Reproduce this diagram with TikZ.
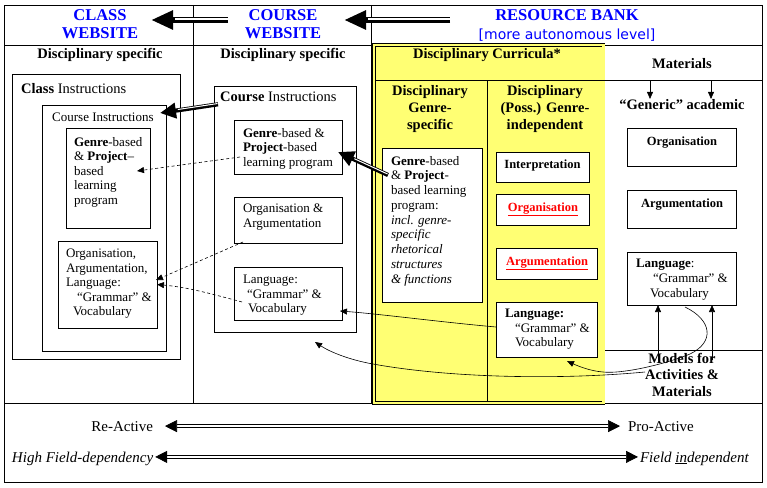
\documentclass[tikz,border=0pt]{standalone}
\usepackage{fontspec}
\setmainfont{Liberation Serif}
\newfontfamily\dvsans{DejaVu Sans}
\usetikzlibrary{arrows.meta,calc}
\definecolor{ylw}{RGB}{255,255,115}
\definecolor{hblue}{RGB}{0,0,255}
\definecolor{hred}{RGB}{255,0,0}
\begin{document}
\begin{tikzpicture}[x=1pt,y=-1pt,
  frame/.style={line width=0.8pt},
  box/.style={draw, line width=0.8pt, inner sep=0pt, outer sep=0pt, anchor=north west},
  tx/.style={inner sep=0pt, outer sep=0pt, align=left, font=\fontsize{13}{14.5}\selectfont},
  hd/.style={inner sep=0pt, outer sep=0pt, align=center, font=\bfseries\fontsize{14.5}{17}\selectfont},
  bl/.style={inner sep=0pt, outer sep=0pt, align=center, font=\bfseries\fontsize{12.5}{15}\selectfont},
  web/.style={inner sep=0pt, outer sep=0pt, align=center, text=hblue, font=\bfseries\fontsize{16.5}{18}\selectfont},
  bt/.style={inner sep=0pt, outer sep=0pt, font=\fontsize{15}{17}\selectfont},
  dsh/.style={dash pattern=on 3pt off 2.5pt, line width=0.6pt, -{Triangle[length=7pt,width=6pt]}},
  thinarr/.style={line width=0.6pt, -{Triangle[length=7pt,width=6pt]}},
  fatarr/.style={line width=4.2pt, -{Triangle[length=16pt,width=15pt]}},
  fatstripe/.style={white, line width=1pt, shorten >=18pt, shorten <=0.5pt, transform canvas={yshift=0.8pt}},
  hdarr/.style={line width=5.5pt, -{Triangle[length=22pt,width=18pt]}},
  hdstripe/.style={white, line width=1.2pt, shorten >=24pt, transform canvas={yshift=1pt}},
  bidbl/.style={double=white, double distance=2pt, line width=0.7pt, {Triangle[length=12pt,width=12pt]}-{Triangle[length=12pt,width=12pt]}}
]
\path[use as bounding box] (0,0) rectangle (767,487);

% yellow block
\fill[ylw] (373.8,44.8) rectangle (603.5,403);

% table lines
\draw[frame] (4,5) rectangle (762,482);
\draw[frame] (4,45) -- (762,45);
\draw[frame] (193,5) -- (193,403);
\draw[frame] (371,5) -- (371,403);
\draw[frame] (4,403) -- (762,403);
\draw[line width=0.8pt, double=ylw, double distance=2.2pt] (373.8,44.8) rectangle (603.5,403);
\draw[frame] (376,80) -- (762,80);
\draw[frame] (487,80) -- (487,401.5);
\draw[frame] (605,350) -- (762,350);

% headers
\node[web, anchor=north] (clw) at (100,10) {CLASS\\WEBSITE};
\node[web, anchor=north] (cow) at (283,10) {COURSE\\WEBSITE};
\node[web, anchor=base] (rb) at (567,21) {RESOURCE BANK};
\node[inner sep=0pt, text=hblue, font=\dvsans\fontsize{14}{16}\selectfont, anchor=base] (mal) at (567,40) {[more autonomous level]};
\coordinate (h1) at (228,20);
\coordinate (h2) at (450,20);
\draw[hdarr] (h1) -- ($(h1 -| clw.east)+(13,0)$);
\draw[hdstripe] (h1) -- ($(h1 -| clw.east)+(13,0)$);
\draw[hdarr] (h2) -- ($(h2 -| cow.east)+(23,0)$);
\draw[hdstripe] (h2) -- ($(h2 -| cow.east)+(23,0)$);

% left column
\node[hd, anchor=base] (lds) at (100,59) {Disciplinary specific};
\node[box, minimum width=168pt, minimum height=285pt] (clb) at (12,74) {};
\node[inner sep=0pt, anchor=base west, font=\fontsize{14.5}{17}\selectfont] (clt) at (21,93) {\textbf{Class} Instructions};
\node[box, minimum width=124pt, minimum height=246pt] (lcb) at (42,105) {};
\node[inner sep=0pt, anchor=base west, font=\fontsize{13}{15}\selectfont] (lct) at (52,121) {Course Instructions};
\node[box, minimum width=84pt, minimum height=100pt] (lg) at (66,128) {};
\node[tx, anchor=north west] (lgt) at (74,137) {\textbf{Genre}-based\\\& \textbf{Project}–\\based\\learning\\program};
\node[box, minimum width=99pt, minimum height=87pt] (lo) at (58,241) {};
\node[tx, anchor=north west] (lot) at (66,249) {Organisation,\\Argumentation,\\Language:\\\hspace*{11pt}“Grammar” \&\\\hspace*{7pt}Vocabulary};

% middle column
\node[hd, anchor=base] (mds) at (283,59) {Disciplinary specific};
\node[box, minimum width=142pt, minimum height=246pt] (mcb) at (214,86) {};
\node[inner sep=0pt, anchor=base west, font=\fontsize{14.5}{17}\selectfont] (mct) at (220,101) {\textbf{Course} Instructions};
\node[box, minimum width=108pt, minimum height=54pt] (mg) at (234,120) {};
\node[tx, anchor=north west] (mgt) at (243,128) {\textbf{Genre}-based \&\\\textbf{Project}-based\\learning program};
\node[box, minimum width=108pt, minimum height=46pt] (mo) at (234,197) {};
\node[tx, anchor=north west, font=\fontsize{13}{15}\selectfont] (mot) at (243,204) {Organisation \&\\Argumentation};
\node[box, minimum width=108pt, minimum height=53pt] (ml) at (234,267) {};
\node[tx, anchor=north west] (mlt) at (243,275) {Language:\\\hspace*{4pt}“Grammar” \&\\\hspace*{5pt}Vocabulary};

% yellow block contents
\node[hd, anchor=base] (dc) at (487,58) {Disciplinary Curricula*};
\node[hd, anchor=north] (dgs) at (430,85) {Disciplinary\\Genre-\\specific};
\node[hd, anchor=north] (dgi) at (545,85) {Disciplinary\\(Poss.) Genre-\\independent};
\node[box, fill=white, minimum width=100pt, minimum height=154pt] (yg) at (382,148) {};
\node[tx, anchor=north west, font=\fontsize{13}{14.75}\selectfont] (ygt) at (391,156) {\textbf{Genre}-based\\\& \textbf{Project}-\\based learning\\program:\\\textit{incl. genre-}\\\textit{specific}\\\textit{rhetorical}\\\textit{structures}\\\textit{\& functions}};
\node[box, fill=white, minimum width=93pt, minimum height=30pt] (yi) at (496,152) {};
\node[bl, anchor=base] (yit) at (542.5,168) {Interpretation};
\node[box, fill=white, minimum width=93pt, minimum height=31pt] (yo) at (496,194) {};
\node[bl, anchor=base, text=hred] (yot) at (543,211) {\underline{Organisation}};
\node[box, fill=white, minimum width=101pt, minimum height=31pt] (ya) at (496,248) {};
\node[bl, anchor=base, text=hred] (yat) at (547,265) {\underline{Argumentation}};
\node[box, fill=white, minimum width=101pt, minimum height=55pt] (yl) at (496,302) {};
\node[tx, anchor=north west] (ylt) at (505,309) {\textbf{Language:}\\\hspace*{10pt}“Grammar” \&\\\hspace*{10pt}Vocabulary};

% right column
\node[hd, anchor=base] (mat) at (682,68) {Materials};
\node[hd, anchor=base] (gen) at (682,109) {“Generic” academic};
\node[box, minimum width=109pt, minimum height=38pt] (ro) at (627,128) {};
\node[bl, anchor=base] (rot) at (682,145) {Organisation};
\node[box, minimum width=109pt, minimum height=38pt] (ra) at (627,190) {};
\node[bl, anchor=base] (rat) at (682,207) {Argumentation};
\node[box, minimum width=109pt, minimum height=53pt] (rl) at (627,252) {};
\node[tx, anchor=north west, font=\fontsize{13}{15}\selectfont] (rlt) at (636,259) {\textbf{Language}:\\\hspace*{17pt}“Grammar” \&\\\hspace*{14pt}Vocabulary};
\node[hd, anchor=north, font=\bfseries\fontsize{14.5}{16.5}\selectfont] (mod) at (682,353) {Models for\\Activities \&\\Materials};

% bottom row
\node[bt, anchor=base east] (rea) at (153,431) {Re-Active};
\node[bt, anchor=base west] (pro) at (628,431) {Pro-Active};
\node[bt, anchor=base west, font=\itshape\fontsize{15}{17}\selectfont] (hfd) at (12,462) {High Field-dependency};
\node[bt, anchor=base west, font=\itshape\fontsize{15}{17}\selectfont] (fin) at (640,462) {Field \underline{in}dependent};
\draw[bidbl] ($(rea.east)+(12,0)$) -- ($(rea.east -| pro.west)+(-8,0)$);
\draw[bidbl] ($(hfd.east)+(2,-1.5)$) -- ($(hfd.east -| fin.west)+(-2,-1.5)$);

% materials arrows
\coordinate (m1) at (650,80);
\coordinate (m2) at (711,80);
\draw[thinarr] (m1) -- (m1 |- gen.north);
\draw[thinarr] (m2) -- (m2 |- gen.north);
\coordinate (u1) at (658,360);
\coordinate (u2) at (712,360);
\draw[thinarr] (u1) -- (u1 |- rl.south);
\draw[thinarr] (u2) -- (u2 |- rl.south);

% thick arrows
\draw[fatarr] ([shift={(-2,8)}]mct.west) -- ([shift={(-6,8)}]lcb.north east);
\draw[fatstripe] ([shift={(-2,8)}]mct.west) -- ([shift={(-6,8)}]lcb.north east);
\draw[fatarr] ([shift={(6,27)}]yg.north west) -- ([shift={(-4,32)}]mg.north east);
\draw[fatstripe] ([shift={(6,27)}]yg.north west) -- ([shift={(-4,32)}]mg.north east);

% dashed arrows
\draw[dsh] ([shift={(6,10)}]mg.west) -- ([shift={(-13,-7)}]lg.east);
\draw[dsh] ([shift={(9,-1)}]mo.south west) -- ([shift={(-1,-4.5)}]lo.east);
\draw[dsh] ([shift={(8,8.5)}]ml.west) .. controls (205,292) and (185,287) .. (lo.east);

% curved connectors
\draw[thinarr] ([shift={(0,-2.5)}]yl.west) .. controls (440,322) and (380,314) .. ([shift={(-2,17.5)}]ml.east);
\draw[thinarr] ([shift={(3.5,2)}]rl.south) .. controls (712,320) and (715,342) .. (690,354)
   .. controls (660,366) and (620,374) .. (603,372)
   .. controls (590,371) and (578,366) .. ([shift={(20.5,4)}]yl.south);
\coordinate (bst) at (645,372);
\draw[thinarr] (bst) .. controls (560,380) and (450,378) .. (373,364)
   .. controls (350,360) and (330,352) .. ([shift={(30,10)}]mcb.south);
\end{tikzpicture}
\end{document}
